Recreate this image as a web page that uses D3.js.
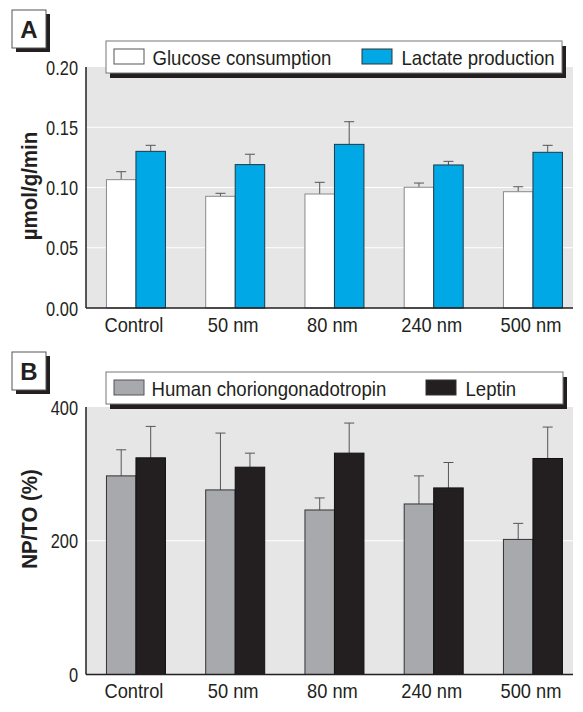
<!DOCTYPE html>
<html>
<head>
<meta charset="utf-8">
<script src="https://cdn.jsdelivr.net/npm/d3@7"></script>
<style>
  html, body { margin: 0; padding: 0; background: #fff; }
  svg { display: block; }
  text { font-family: "Liberation Sans", Arial, sans-serif; fill: #231f20; }
</style>
</head>
<body>
<svg id="chart" width="583" height="712"></svg>
<script>
// ---- data ----
const categories = ["Control", "50 nm", "80 nm", "240 nm", "500 nm"];

const glucose     = [0.1065, 0.0927, 0.0946, 0.1002, 0.0965];
const glucoseErr  = [0.0066, 0.0025, 0.0097, 0.0035, 0.0041];
const lactate     = [0.1300, 0.1190, 0.1358, 0.1187, 0.1292];
const lactateErr  = [0.0050, 0.0086, 0.0188, 0.0030, 0.0058];

const hcg       = [297, 276, 246, 255, 202];
const hcgErr    = [39, 85, 18, 42, 24];
const leptin    = [324, 310, 331, 279, 323];
const leptinErr = [47, 21, 45, 38, 47];

const ticksA = [0, 0.05, 0.10, 0.15, 0.20];
const ticksB = [0, 200, 400];
const gridA = [0.05, 0.10, 0.15];
const gridB = [200];

const seriesA = ["Glucose consumption", "Lactate production"];
const seriesB = ["Human choriongonadotropin", "Leptin"];

// ---- layout ----
const svg = d3.select("#chart");
const plotX0 = 86, plotX1 = 573;

const x = d3.scaleBand().domain(categories).range([86.6, 582.3])
  .paddingInner(0.4055).paddingOuter(0.2);
const xs = d3.scaleBand().domain([0, 1]).range([0, x.bandwidth()]);

// condense text horizontally (the original uses a condensed typeface)
function condense(sel, sx) {
  sel.each(function () {
    const w = this.getComputedTextLength();
    d3.select(this).attr("textLength", (w * sx).toFixed(2)).attr("lengthAdjust", "spacingAndGlyphs");
  });
}

function panel(cfg) {
  const y = d3.scaleLinear().domain(cfg.domain).range([cfg.yBottom, cfg.yTop]);
  const g = svg.append("g");

  g.append("rect").attr("x", plotX0).attr("y", cfg.yTop)
    .attr("width", plotX1 - plotX0).attr("height", cfg.yBottom - cfg.yTop)
    .attr("fill", "#e6e6e7");

  g.selectAll(".grid").data(cfg.grid).join("line")
    .attr("x1", plotX0).attr("x2", plotX1)
    .attr("y1", d => y(d)).attr("y2", d => y(d))
    .attr("stroke", "#fff").attr("stroke-width", 1);

  const sers = [
    { vals: cfg.v0, errs: cfg.e0, fill: cfg.fills[0], stroke: cfg.strokes[0] },
    { vals: cfg.v1, errs: cfg.e1, fill: cfg.fills[1], stroke: cfg.strokes[1] }
  ];
  sers.forEach((s, si) => {
    const data = categories.map((c, i) => ({ c, v: s.vals[i], e: s.errs[i] }));
    const cx = d => x(d.c) + xs(si) + xs.bandwidth() / 2;
    g.selectAll(null).data(data).join("line")
      .attr("x1", cx).attr("x2", cx)
      .attr("y1", d => y(d.v)).attr("y2", d => y(d.v + d.e))
      .attr("stroke", "#555").attr("stroke-width", 1);
    g.selectAll(null).data(data).join("line")
      .attr("x1", d => cx(d) - 5).attr("x2", d => cx(d) + 5)
      .attr("y1", d => y(d.v + d.e)).attr("y2", d => y(d.v + d.e))
      .attr("stroke", "#555").attr("stroke-width", 1);
    g.selectAll(null).data(data).join("rect")
      .attr("x", d => x(d.c) + xs(si))
      .attr("width", xs.bandwidth())
      .attr("y", d => y(d.v))
      .attr("height", d => y(0) - y(d.v))
      .attr("fill", s.fill).attr("stroke", s.stroke).attr("stroke-width", 1);
  });

  g.append("line").attr("x1", plotX0).attr("x2", plotX0)
    .attr("y1", cfg.yTop).attr("y2", cfg.yBottom)
    .attr("stroke", "#231f20").attr("stroke-width", 1.5);
  g.append("line").attr("x1", plotX0).attr("x2", plotX1)
    .attr("y1", cfg.yBottom).attr("y2", cfg.yBottom)
    .attr("stroke", "#231f20").attr("stroke-width", 1.5);

  g.selectAll(".yt").data(cfg.ticks).join("text")
    .attr("x", 78).attr("y", d => y(d)).attr("dy", "0.36em")
    .attr("text-anchor", "end")
    .style("font-size", "21px")
    .text(cfg.fmt)
    .call(condense, 0.78);

  g.selectAll(".xt").data(categories).join("text")
    .attr("x", d => x(d) + x.bandwidth() / 2 - 2).attr("y", cfg.yBottom + 23.5)
    .attr("text-anchor", "middle")
    .style("font-size", "21px")
    .text(d => d)
    .call(condense, 0.87);

  g.append("text")
    .attr("transform", `translate(36.5,${cfg.titleY}) rotate(-90)`)
    .attr("text-anchor", "middle")
    .style("font-size", "22px").style("font-weight", "bold")
    .text(cfg.yTitle)
    .call(condense, 0.93);

  const bx = 12, by = cfg.boxY, bw = 34, bh = 38;
  g.append("rect").attr("x", bx + 4).attr("y", by + 4).attr("width", bw).attr("height", bh).attr("fill", "#231f20");
  g.append("rect").attr("x", bx).attr("y", by).attr("width", bw).attr("height", bh)
    .attr("fill", "#fff").attr("stroke", "#555").attr("stroke-width", 1);
  g.append("text").attr("x", bx + bw / 2).attr("y", by + 27.5).attr("text-anchor", "middle")
    .style("font-size", "24px").style("font-weight", "bold").text(cfg.letter);

  const L = cfg.legend;
  g.append("rect").attr("x", L.x + 4).attr("y", L.y + 5).attr("width", L.w).attr("height", L.h).attr("fill", "#231f20");
  g.append("rect").attr("x", L.x).attr("y", L.y).attr("width", L.w).attr("height", L.h)
    .attr("fill", "#fff").attr("stroke", "#777").attr("stroke-width", 1);
  cfg.series.forEach((name, i) => {
    g.append("rect").attr("x", L.sw[i]).attr("y", L.y + 8).attr("width", 30).attr("height", 15)
      .attr("fill", cfg.fills[i]).attr("stroke", i === 0 ? "#555" : "#333").attr("stroke-width", 1);
    g.append("text").attr("x", L.tx[i]).attr("y", L.y + 23.5)
      .style("font-size", "21px").text(name)
      .call(condense, 0.886);
  });
}

panel({
  domain: [0, 0.20], yTop: 67, yBottom: 308,
  grid: gridA, ticks: ticksA, fmt: d3.format(".2f"),
  v0: glucose, e0: glucoseErr, v1: lactate, e1: lactateErr,
  fills: ["#ffffff", "#00a9e6"], strokes: ["#8a8a8a", "#1f3846"],
  yTitle: "\u00b5mol/g/min", titleY: 186,
  letter: "A", boxY: 10,
  series: seriesA,
  legend: { x: 106, y: 41, w: 456, h: 32, sw: [114, 362], tx: [152.5, 401.5] }
});

panel({
  domain: [0, 400], yTop: 407, yBottom: 674.5,
  grid: gridB, ticks: ticksB, fmt: d3.format("d"),
  v0: hcg, e0: hcgErr, v1: leptin, e1: leptinErr,
  fills: ["#a7a9ac", "#231f20"], strokes: ["#333", "#111"],
  yTitle: "NP/TO (%)", titleY: 519,
  letter: "B", boxY: 352,
  series: seriesB,
  legend: { x: 106, y: 372, w: 457, h: 32, sw: [114, 426], tx: [151.5, 465.5] }
});
</script>
</body>
</html>
